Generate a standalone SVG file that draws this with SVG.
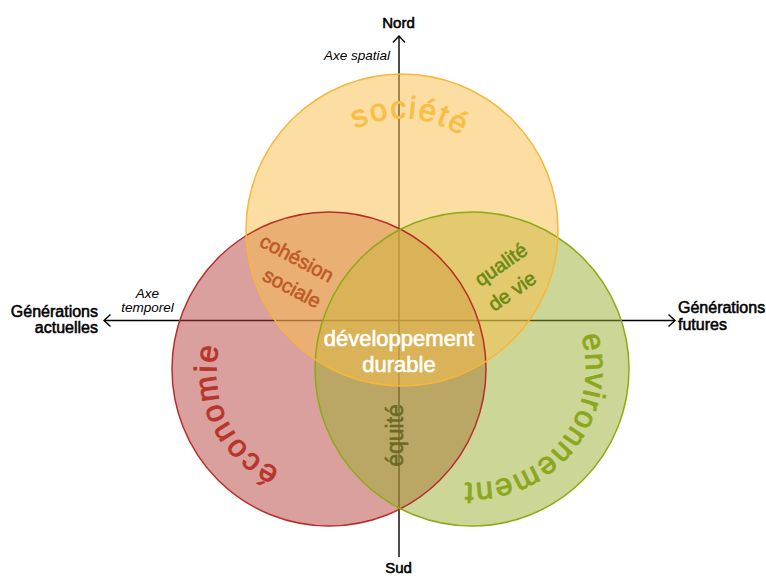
<svg xmlns="http://www.w3.org/2000/svg" xmlns:xlink="http://www.w3.org/1999/xlink" width="766" height="576" viewBox="0 0 766 576">
<defs>
<style>
.ax{fill:none;stroke:#000;stroke-width:1.4}
.lab{font-family:"Liberation Sans",Arial,sans-serif;font-weight:normal;font-size:16px;fill:#000;stroke:#000;stroke-width:0.55}
.it{font-family:"Liberation Sans",Arial,sans-serif;font-style:italic;font-size:13.5px;fill:#000}
.big{font-family:"Liberation Sans",Arial,sans-serif;font-size:31px;stroke-width:0.9}
.mid{font-family:"Liberation Sans",Arial,sans-serif;font-size:20px;text-anchor:middle;stroke-width:0.6}
.fill{fill-opacity:0.5;stroke:none}
.out{fill:none;stroke-width:1.5}
</style>
<marker id="chev" viewBox="-8 -8 10 16" refX="0" refY="0" markerWidth="10" markerHeight="16" orient="auto-start-reverse" markerUnits="userSpaceOnUse">
<path d="M-6.5,-6 L0,0 L-6.5,6" fill="none" stroke="#000" stroke-width="1.4"/>
</marker>
<path id="pSoc" d="M394,341.7 A112,112 0 0 1 410,118.3 A112,112 0 0 1 394,341.7"/>
<path id="pEco" d="M431.7,319.6 A114,114 0 0 1 226.3,418.4 A114,114 0 0 1 431.7,319.6"/>
<path id="pEnv" d="M382.8,298 A114,114 0 0 1 561.2,440 A114,114 0 0 1 382.8,298"/>
</defs>
<rect width="766" height="576" fill="#fff"/>
<g id="connectors">
<line class="ax" x1="399" y1="557" x2="399" y2="36" marker-end="url(#chev)"/>
<line class="ax" x1="104" y1="320.5" x2="675" y2="320.5" marker-start="url(#chev)" marker-end="url(#chev)"/>
</g>
<g id="node-economie"><circle class="fill" cx="329" cy="369" r="157" fill="#B5413D"/></g>
<g id="node-environnement"><circle class="fill" cx="472" cy="369" r="157" fill="#99AD2D"/></g>
<g id="node-societe"><circle class="fill" cx="402" cy="230" r="156" fill="#F9BD47"/></g>
<g id="outlines">
<circle class="out" cx="329" cy="369" r="157" stroke="#B92D28"/>
<circle class="out" cx="472" cy="369" r="157" stroke="#8CAA14"/>
<circle class="out" cx="402" cy="230" r="156" stroke="#F6B63C"/>
</g>
<g id="circle-labels">
<text class="big" fill="#F8BE46" stroke="#F8BE46" letter-spacing="2" text-anchor="middle"><textPath xlink:href="#pSoc" href="#pSoc" startOffset="50%">société</textPath></text>
<text class="big" fill="#B8352C" stroke="#B8352C" letter-spacing="2" text-anchor="middle"><textPath xlink:href="#pEco" href="#pEco" startOffset="50%">économie</textPath></text>
<text class="big" fill="#8BA81C" stroke="#8BA81C" letter-spacing="1.2" text-anchor="middle"><textPath xlink:href="#pEnv" href="#pEnv" startOffset="50%">environnement</textPath></text>
</g>
<g id="intersection-labels">
<text class="mid" fill="#BE5A28" stroke="#BE5A28" transform="translate(297,258) rotate(28)" y="7">cohésion</text>
<text class="mid" fill="#BE5A28" stroke="#BE5A28" transform="translate(292,288) rotate(28)" y="7">sociale</text>
<text class="mid" fill="#6B8A14" stroke="#6B8A14" transform="translate(502,266) rotate(-35)" y="5">qualité</text>
<text class="mid" fill="#6B8A14" stroke="#6B8A14" transform="translate(512,291) rotate(-35)" y="7">de vie</text>
<text class="mid" fill="#6A6A22" stroke="#6A6A22" style="font-size:23px" transform="translate(403,435.5) rotate(-90)">équité</text>
<text class="mid" fill="#fff" stroke="#fff" style="font-size:22px" x="399" y="346">développement</text>
<text class="mid" fill="#fff" stroke="#fff" style="font-size:22px" x="399" y="372">durable</text>
</g>
<g id="axis-labels">
<text class="lab" x="398.5" y="28" text-anchor="middle" style="font-size:15px">Nord</text>
<text class="lab" x="398.5" y="573" text-anchor="middle" style="font-size:15px">Sud</text>
<text class="it" x="390" y="60" text-anchor="end">Axe spatial</text>
<text class="it" x="147.5" y="298" text-anchor="middle">Axe</text>
<text class="it" x="147.5" y="312" text-anchor="middle">temporel</text>
<text class="lab" x="98" y="316.5" text-anchor="end">Générations</text>
<text class="lab" x="98" y="333" text-anchor="end">actuelles</text>
<text class="lab" x="678" y="313">Générations</text>
<text class="lab" x="678" y="330">futures</text>
</g>
</svg>
